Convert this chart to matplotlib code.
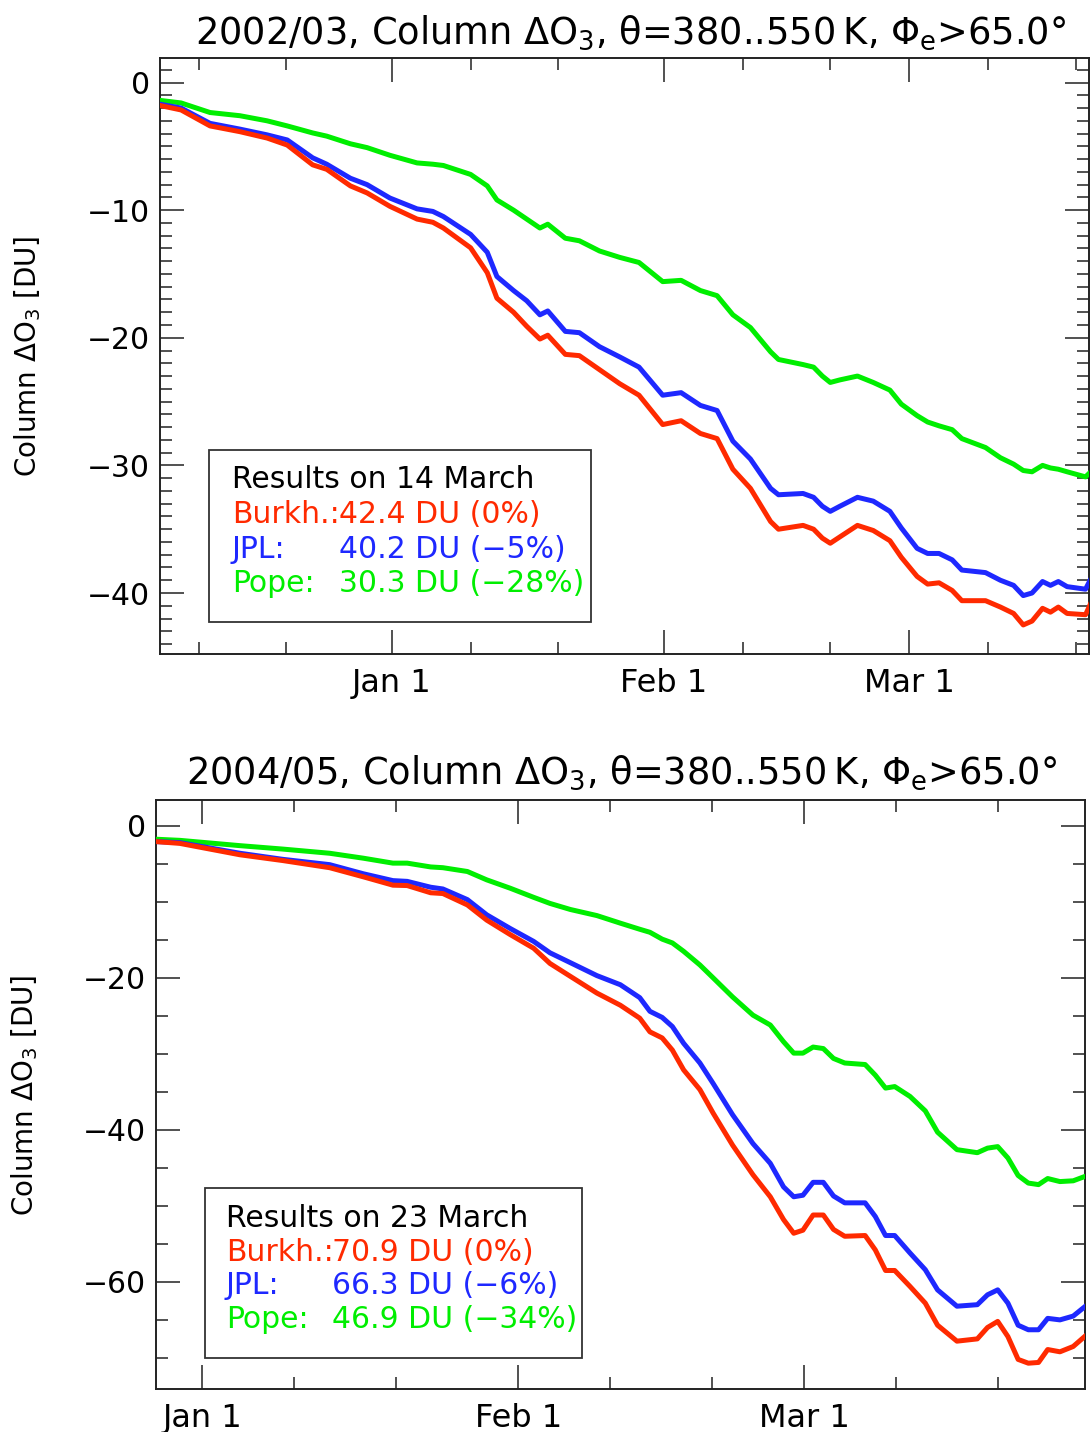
import matplotlib
matplotlib.use('Agg')
from matplotlib import pyplot as plt
from matplotlib.patches import Rectangle

plt.rcParams['font.family'] = ['DejaVu Sans']
plt.rcParams['mathtext.fontset'] = 'dejavusans'

# colours of the three schemes
RED = '#ff2a00'
BLUE = '#1e28ff'
GREEN = '#00ee00'

# ---- 2002/03 (days after 1 January) ----
days_0203 = [-26.4, -24.0, -20.7, -17.3, -14.2, -11.9, -9.0, -7.4, -4.7, -2.8,
             -0.2, 2.9, 4.7, 5.9, 9.0, 10.9, 12.0, 13.9, 15.4, 16.9,
             17.8, 19.8, 21.4, 23.7, 26.0, 28.2, 30.9, 33.0, 35.2, 37.1,
             38.9, 40.9, 43.2, 44.1, 46.9, 48.1, 49.1, 50.0, 51.1, 53.1,
             54.9, 56.8, 58.1, 59.9, 61.1, 62.4, 63.9, 65.0, 67.7, 69.4,
             70.9, 72.0, 73.0, 74.2, 75.1, 76.0, 77.0, 79.1, 79.7]
burkh_0203 = [-1.8, -2.15, -3.4, -3.85, -4.35, -4.9, -6.45, -6.8, -8.1, -8.65,
              -9.7, -10.7, -10.95, -11.4, -12.95, -14.9, -16.9, -18.0, -19.1, -20.1,
              -19.8, -21.3, -21.4, -22.5, -23.6, -24.5, -26.8, -26.5, -27.5, -27.9,
              -30.3, -31.8, -34.4, -35.0, -34.7, -35.0, -35.7, -36.1, -35.6, -34.7,
              -35.1, -35.9, -37.2, -38.7, -39.3, -39.2, -39.8, -40.6, -40.6, -41.1,
              -41.6, -42.5, -42.2, -41.2, -41.5, -41.1, -41.6, -41.7, -40.8]
jpl_0203 = [-1.7, -2.0, -3.2, -3.65, -4.1, -4.5, -5.9, -6.4, -7.5, -8.0,
            -9.05, -9.9, -10.1, -10.5, -11.9, -13.3, -15.2, -16.3, -17.1, -18.2,
            -17.9, -19.5, -19.6, -20.7, -21.5, -22.3, -24.5, -24.3, -25.3, -25.7,
            -28.1, -29.5, -31.8, -32.3, -32.2, -32.5, -33.2, -33.6, -33.2, -32.5,
            -32.8, -33.6, -34.9, -36.5, -36.9, -36.9, -37.4, -38.2, -38.4, -39.0,
            -39.4, -40.2, -40.0, -39.1, -39.4, -39.1, -39.5, -39.7, -38.9]
pope_0203 = [-1.4, -1.6, -2.35, -2.6, -3.0, -3.4, -3.95, -4.2, -4.8, -5.1,
             -5.7, -6.3, -6.4, -6.5, -7.2, -8.1, -9.2, -10.0, -10.7, -11.4,
             -11.1, -12.2, -12.4, -13.2, -13.7, -14.1, -15.6, -15.5, -16.3, -16.7,
             -18.2, -19.2, -21.1, -21.7, -22.1, -22.3, -23.0, -23.5, -23.3, -23.0,
             -23.5, -24.1, -25.2, -26.1, -26.6, -26.9, -27.2, -27.9, -28.6, -29.4,
             -29.9, -30.4, -30.5, -30.0, -30.2, -30.3, -30.5, -30.9, -30.5]

# ---- 2004/05 ----
days_0405 = [-4.6, -2.2, 3.7, 7.9, 12.5, 15.8, 18.7, 20.1, 22.4, 23.6,
             26.0, 27.9, 30.2, 32.5, 34.1, 36.1, 38.7, 41.0, 42.9, 43.9,
             45.1, 46.1, 47.2, 48.8, 50.1, 52.0, 54.0, 55.7, 57.0, 58.0,
             58.9, 59.9, 60.9, 61.9, 63.0, 65.0, 66.0, 67.0, 67.9, 69.4,
             70.9, 72.1, 74.0, 76.0, 77.0, 78.0, 79.0, 80.0, 81.0, 82.0,
             82.9, 84.1, 85.4, 86.6]
burkh_0405 = [-2.06, -2.3, -3.8, -4.56, -5.5, -6.7, -7.8, -7.85, -8.8, -8.9,
              -10.4, -12.4, -14.3, -16.1, -18.1, -19.8, -22.0, -23.6, -25.3, -27.1,
              -27.9, -29.5, -32.1, -34.7, -37.8, -42.0, -45.9, -48.8, -51.8, -53.6,
              -53.2, -51.2, -51.2, -53.1, -54.0, -53.9, -55.8, -58.5, -58.5, -60.6,
              -62.8, -65.7, -67.8, -67.5, -66.0, -65.2, -67.2, -70.2, -70.7, -70.6,
              -68.9, -69.2, -68.5, -67.1]
jpl_0405 = [-2.06, -2.2, -3.6, -4.4, -5.1, -6.3, -7.2, -7.3, -8.07, -8.3,
            -9.7, -11.7, -13.5, -15.2, -16.7, -18.0, -19.7, -20.9, -22.6, -24.4,
            -25.2, -26.4, -28.6, -31.2, -33.9, -38.0, -41.8, -44.4, -47.5, -48.8,
            -48.6, -46.9, -46.9, -48.7, -49.6, -49.6, -51.4, -53.9, -53.9, -56.2,
            -58.4, -61.05, -63.2, -63.0, -61.7, -61.05, -62.8, -65.7, -66.3, -66.3,
            -64.8, -65.0, -64.5, -63.2]
pope_0405 = [-1.75, -1.9, -2.6, -3.05, -3.6, -4.25, -4.9, -4.9, -5.4, -5.5,
             -6.0, -7.1, -8.2, -9.4, -10.2, -11.0, -11.8, -12.8, -13.6, -14.0,
             -14.9, -15.4, -16.5, -18.3, -20.0, -22.5, -24.9, -26.2, -28.4, -29.9,
             -29.9, -29.1, -29.3, -30.6, -31.2, -31.4, -32.8, -34.5, -34.3, -35.6,
             -37.5, -40.3, -42.6, -43.0, -42.4, -42.2, -43.7, -46.0, -47.0, -47.2,
             -46.4, -46.8, -46.7, -46.1]

# month ticks (days after 1 Jan)
major_days = [0, 31, 59]
major_labels = ['Jan 1', 'Feb 1', 'Mar 1']
minor_days = [-22, -12, 9, 19, 40, 50, 68, 78]

legend_0203 = ['Results on 14 March', '42.4 DU (0%)', '40.2 DU (\u22125%)', '30.3 DU (\u221228%)']
legend_0405 = ['Results on 23 March', '70.9 DU (0%)', '66.3 DU (\u22126%)', '46.9 DU (\u221234%)']
scheme_names = ['Burkh.:', 'JPL:', 'Pope:']


def draw_panel(ax, days, red, blue, green, xlim, ylim, ymajor, yminor,
               legend, box, text_x, val_x, baselines):
    for vals, col in [(green, GREEN), (blue, BLUE), (red, RED)]:
        ax.plot(days, vals, color=col, lw=3.6, solid_joinstyle='round', zorder=3)
    ax.set_xticks(major_days)
    ax.set_xticklabels(major_labels)
    ax.set_xticks(minor_days, minor=True)
    ax.set_yticks(ymajor)
    ax.set_yticks(yminor, minor=True)
    # limits after the ticks, so ticks outside the range do not widen the view
    ax.set_xlim(*xlim)
    ax.set_ylim(*ylim)
    ax.tick_params(which='both', direction='in', top=True, right=True,
                   color='#222222', width=1.1)
    ax.tick_params(which='major', length=17)
    ax.tick_params(which='minor', length=8.6)
    ax.tick_params(axis='x', pad=10, labelsize=23)
    ax.tick_params(axis='y', pad=7, labelsize=21.5)
    for s in ax.spines.values():
        s.set_linewidth(1.4)
        s.set_color('#222222')
    # results box
    ax.add_patch(Rectangle((box[0], box[1]), box[2], box[3], transform=ax.transAxes,
                           fill=True, facecolor='white', edgecolor='#333333',
                           lw=1.3, zorder=4))
    ax.text(text_x, baselines[0], legend[0], transform=ax.transAxes, fontsize=21.5,
            va='baseline', color='black', zorder=5)
    for i, col in enumerate([RED, BLUE, GREEN]):
        ax.text(text_x, baselines[i + 1], scheme_names[i], transform=ax.transAxes,
                fontsize=21.5, va='baseline', color=col, zorder=5)
        ax.text(val_x, baselines[i + 1], legend[i + 1], transform=ax.transAxes,
                fontsize=21.5, va='baseline', color=col, zorder=5)


fig = plt.figure(figsize=(10.91, 14.32), dpi=100)

ax1 = fig.add_axes([0.1467, 0.5431, 0.8515, 0.4162])
draw_panel(ax1, days_0203, burkh_0203, jpl_0203, pope_0203,
           (-26.4, 79.5), (-44.8, 1.9), [-40, -30, -20, -10, 0],
           [v for v in range(-44, 2) if v % 10 != 0],
           legend_0203, (0.0531, 0.0547, 0.4105, 0.288), 0.0772, 0.1925,
           [0.279, 0.2203, 0.1616, 0.1045])

ax2 = fig.add_axes([0.1427, 0.0300, 0.8522, 0.4113])
draw_panel(ax2, days_0405, burkh_0405, jpl_0405, pope_0405,
           (-4.56, 86.6), (-74.1, 3.4), [-60, -40, -20, 0],
           [v for v in range(-70, 5, 5) if v % 20 != 0],
           legend_0405, (0.053, 0.0521, 0.4058, 0.2886), 0.0753, 0.1895,
           [0.2756, 0.2173, 0.1608, 0.1031])

title = 'Column \u0394O$_3$, \u03b8=380..550\u2009K, \u03a6$_\\mathrm{e}$>65.0\u00b0'
fig.text(0.578, 0.9693, '2002/03, ' + title, ha='center', va='baseline', fontsize=26.5)
fig.text(0.5697, 0.453, '2004/05, ' + title, ha='center', va='baseline', fontsize=26.5)

ylab = 'Column \u0394O$_3$ [DU]'
fig.text(0.0257, 0.7514, ylab, rotation=90, ha='center', va='center', fontsize=20)
fig.text(0.0229, 0.2353, ylab, rotation=90, ha='center', va='center', fontsize=20)

fig.savefig('out.png', dpi=100)
